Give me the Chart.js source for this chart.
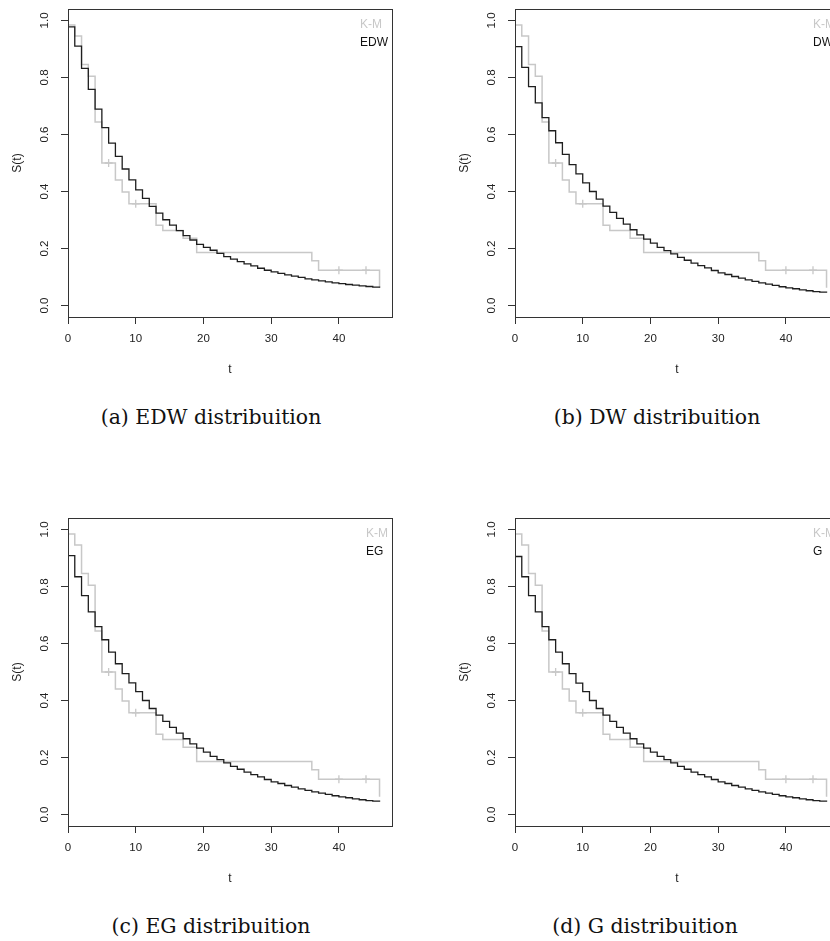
<!DOCTYPE html>
<html>
<head>
<meta charset="utf-8">
<script src="https://cdn.jsdelivr.net/npm/chart.js@4.4.1/dist/chart.umd.min.js"></script>
<style>
html, body { margin: 0; padding: 0; width: 830px; height: 941px; overflow: hidden; background: #fff; }
canvas { position: absolute; }
.cap { position: absolute; font-family: "DejaVu Serif", serif; font-size: 20.4px; color: #111;
       transform: translate(-50%, -50%); white-space: nowrap; }
</style>
</head>
<body>
<canvas id="pa" width="420" height="390" style="left:0px;top:0px"></canvas>
<canvas id="pb" width="420" height="390" style="left:447px;top:0px"></canvas>
<canvas id="pc" width="420" height="390" style="left:0px;top:509px"></canvas>
<canvas id="pd" width="420" height="390" style="left:447px;top:509px"></canvas>
<div class="cap" style="left:211px;top:417px">(a) EDW distribuition</div>
<div class="cap" style="left:657px;top:417px">(b) DW distribuition</div>
<div class="cap" style="left:211px;top:926px">(c) EG distribuition</div>
<div class="cap" style="left:645px;top:926px">(d) G distribuition</div>
<script>
// Kaplan-Meier estimate (gray)
const kmTimes = [0, 1, 2, 3, 4, 5, 7, 8, 9, 13, 14, 17, 19, 36, 37, 46];
const kmSurv = [0.984, 0.945, 0.845, 0.804, 0.644, 0.500, 0.440, 0.398, 0.357, 0.282, 0.263, 0.236, 0.186, 0.157, 0.124, 0.063];
const censorTimes = [6, 10, 40, 44];
const censorSurv = [0.500, 0.357, 0.124, 0.124];

// fitted survival, one value per integer t
const fitTimes = [0, 1, 2, 3, 4, 5, 6, 7, 8, 9, 10, 11, 12, 13, 14, 15, 16, 17, 18, 19, 20, 21, 22, 23,
    24, 25, 26, 27, 28, 29, 30, 31, 32, 33, 34, 35, 36, 37, 38, 39, 40, 41, 42, 43, 44, 45, 46];
const fitEDW = [0.977, 0.910, 0.832, 0.758, 0.689, 0.624, 0.570, 0.523, 0.479, 0.441, 0.406, 0.376,
    0.348, 0.324, 0.301, 0.282, 0.263, 0.245, 0.230, 0.215, 0.204, 0.194, 0.183, 0.172, 0.163, 0.154,
    0.146, 0.139, 0.131, 0.124, 0.118, 0.113, 0.108, 0.103, 0.099, 0.094, 0.090, 0.087, 0.083, 0.080,
    0.077, 0.074, 0.072, 0.069, 0.067, 0.065, 0.063];
const fitDW = [0.908, 0.835, 0.768, 0.711, 0.659, 0.613, 0.571, 0.530, 0.494, 0.462, 0.430, 0.400,
    0.373, 0.349, 0.327, 0.306, 0.286, 0.266, 0.248, 0.233, 0.219, 0.204, 0.193, 0.181, 0.169, 0.159,
    0.149, 0.140, 0.132, 0.123, 0.115, 0.109, 0.102, 0.096, 0.090, 0.085, 0.080, 0.075, 0.071, 0.066,
    0.062, 0.059, 0.055, 0.052, 0.049, 0.047, 0.045];
const fitEG = [0.908, 0.834, 0.768, 0.711, 0.659, 0.613, 0.570, 0.529, 0.494, 0.462, 0.431, 0.400,
    0.372, 0.349, 0.327, 0.306, 0.286, 0.266, 0.248, 0.233, 0.219, 0.204, 0.193, 0.181, 0.169, 0.159,
    0.149, 0.140, 0.132, 0.123, 0.115, 0.109, 0.102, 0.096, 0.090, 0.085, 0.080, 0.075, 0.071, 0.066,
    0.062, 0.059, 0.055, 0.052, 0.049, 0.047, 0.045];
const fitG = [0.905, 0.834, 0.768, 0.711, 0.659, 0.613, 0.570, 0.529, 0.494, 0.461, 0.431, 0.400,
    0.372, 0.349, 0.327, 0.306, 0.286, 0.266, 0.248, 0.233, 0.219, 0.204, 0.193, 0.181, 0.169, 0.159,
    0.149, 0.140, 0.132, 0.123, 0.115, 0.109, 0.102, 0.096, 0.090, 0.085, 0.080, 0.075, 0.071, 0.066,
    0.062, 0.059, 0.055, 0.052, 0.049, 0.047, 0.045];

const xTicks = [0, 10, 20, 30, 40];
const yTicks = [0, 0.2, 0.4, 0.6, 0.8, 1.0];
const yTickLabels = ['0.0', '0.2', '0.4', '0.6', '0.8', '1.0'];

const kmColor = '#c8c8c8';
const fitColor = '#1e1e1e';
const axisColor = '#333333';
const textFont = 'Liberation Sans, Arial, sans-serif';

// box, rotated y labels and the K-M / model legend
const rStyle = {
    id: 'rStyle',
    afterDraw(chart, args, opts) {
        const ctx = chart.ctx;
        const a = chart.chartArea;
        ctx.save();
        ctx.strokeStyle = axisColor;
        ctx.lineWidth = 1;
        ctx.strokeRect(Math.round(a.left) + 0.5, Math.round(a.top) + 0.5,
            Math.round(a.right - a.left), Math.round(a.bottom - a.top));

        ctx.fillStyle = '#222';
        ctx.font = '11.5px ' + textFont;
        ctx.textAlign = 'center';
        ctx.textBaseline = 'middle';
        yTicks.forEach((v, i) => {
            const y = chart.scales.y.getPixelForValue(v);
            ctx.save();
            ctx.translate(a.left - 23, y);
            ctx.rotate(-Math.PI / 2);
            ctx.fillText(yTickLabels[i], 0, 0);
            ctx.restore();
        });

        ctx.font = '12px ' + textFont;
        ctx.textAlign = 'left';
        const w = Math.max(...opts.labels.map(l => ctx.measureText(l).width));
        opts.labels.forEach((l, i) => {
            ctx.fillStyle = opts.colors[i];
            ctx.fillText(l, a.right - w - 4, a.top + 16 + i * 17.5);
        });
        ctx.restore();
    }
};

function makeChart(id, name, fit) {
    new Chart(document.getElementById(id), {
        type: 'line',
        data: {
            datasets: [
                {
                    label: name,
                    data: fitTimes.map((t, i) => ({ x: t, y: fit[i] })),
                    stepped: 'before',
                    borderColor: fitColor,
                    borderWidth: 1.3,
                    pointRadius: 0
                },
                {
                    label: 'K-M',
                    data: kmTimes.map((t, i) => ({ x: t, y: kmSurv[i] })),
                    stepped: 'before',
                    borderColor: kmColor,
                    borderWidth: 1.5,
                    pointRadius: 0
                },
                {
                    label: 'censored',
                    data: censorTimes.map((t, i) => ({ x: t, y: censorSurv[i] })),
                    showLine: false,
                    pointStyle: 'cross',
                    pointRadius: 4,
                    borderColor: kmColor,
                    borderWidth: 1.3
                }
            ]
        },
        options: {
            responsive: false,
            animation: false,
            layout: { padding: { top: 9, right: 28, left: 0, bottom: 0 } },
            plugins: {
                legend: { display: false },
                tooltip: { enabled: false },
                rStyle: { labels: ['K-M', name], colors: [kmColor, '#111'] }
            },
            scales: {
                x: {
                    type: 'linear',
                    min: 0,
                    max: 47.84,
                    afterBuildTicks: s => { s.ticks = xTicks.map(v => ({ value: v })); },
                    afterFit: s => { s.height = 73; },
                    border: { display: false },
                    grid: { drawOnChartArea: false, drawTicks: true, tickLength: 7, color: axisColor },
                    ticks: {
                        autoSkip: false, maxRotation: 0, padding: 8, color: '#222',
                        font: { family: textFont, size: 11.5 }
                    },
                    title: {
                        display: true, text: 't', color: '#222',
                        font: { family: textFont, size: 12 },
                        padding: { top: 0, bottom: 13 }
                    }
                },
                y: {
                    type: 'linear',
                    min: -0.04,
                    max: 1.04,
                    afterBuildTicks: s => { s.ticks = yTicks.map(v => ({ value: v })); },
                    afterFit: s => { s.width = 68; },
                    border: { display: false },
                    grid: { drawOnChartArea: false, drawTicks: true, tickLength: 7, color: axisColor },
                    ticks: { display: false },
                    title: {
                        display: true, text: 'S(t)', color: '#222',
                        font: { family: textFont, size: 12 },
                        padding: { top: 10, bottom: 0 }
                    }
                }
            }
        },
        plugins: [rStyle]
    });
}

makeChart('pa', 'EDW', fitEDW);
makeChart('pb', 'DW', fitDW);
makeChart('pc', 'EG', fitEG);
makeChart('pd', 'G', fitG);
</script>
</body>
</html>
